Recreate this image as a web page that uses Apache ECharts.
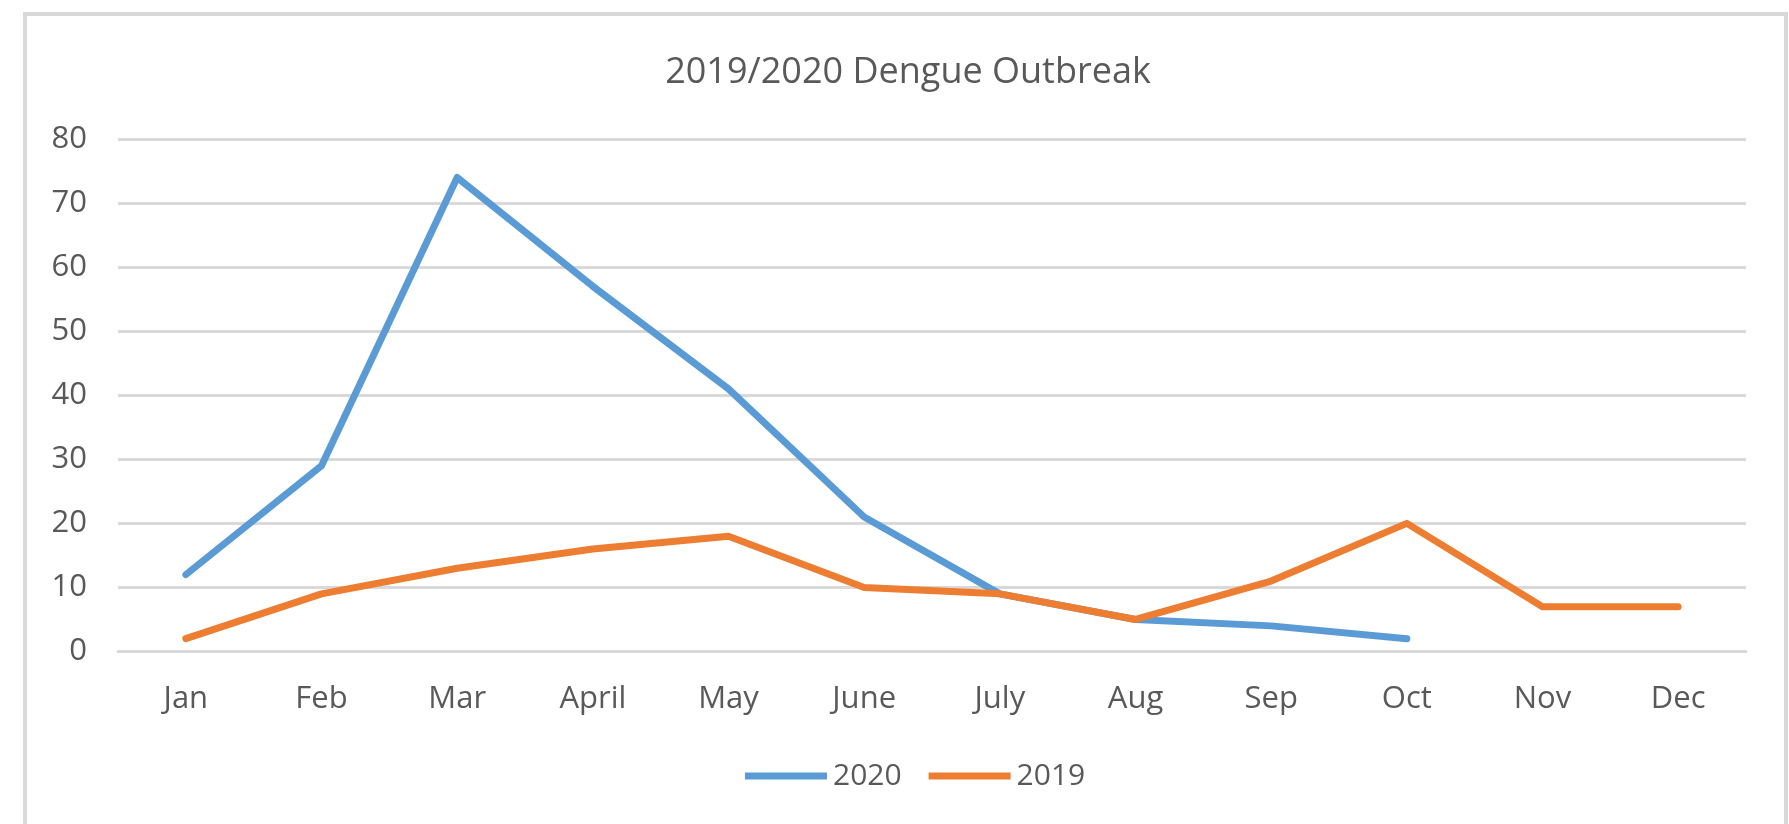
<!DOCTYPE html>
<html>
<head>
<meta charset="utf-8">
<script src="https://cdn.jsdelivr.net/npm/echarts@6/dist/echarts.min.js"></script>
<style>
html,body{margin:0;padding:0;background:#fff;}
#chart{width:1789px;height:824px;}
</style>
</head>
<body>
<div id="chart"></div>
<script>
const titleText = '2019/2020 Dengue Outbreak';
const months = ['Jan','Feb','Mar','April','May','June','July','Aug','Sep','Oct','Nov','Dec'];
const cases2020 = [12, 29, 74, 57, 41, 21, 9, 5, 4, 2];
const cases2019 = [2, 9, 13, 16, 18, 10, 9, 5, 11, 20, 7, 7];
const yTicks = [0, 10, 20, 30, 40, 50, 60, 70, 80];

const FONT = '"Open Sans", sans-serif';
const GRAY = '#595959';
const GRID = '#D9D9D9';

const chart = echarts.init(document.getElementById('chart'), null, {renderer: 'canvas'});
chart.setOption({
  backgroundColor: '#ffffff',
  animation: false,
  title: {
    text: titleText,
    left: 903,
    textAlign: 'center',
    top: 50,
    textStyle: {fontFamily: FONT, fontSize: 36, fontWeight: 'normal', color: GRAY}
  },
  graphic: [{
    type: 'rect',
    shape: {x: 25, y: 14, width: 1761, height: 900},
    style: {fill: 'none', stroke: GRID, lineWidth: 4},
    silent: true
  }],
  legend: {
    data: ['2020', '2019'],
    left: 740,
    top: 756,
    icon: 'rect',
    itemWidth: 82,
    itemHeight: 7,
    itemGap: 27,
    textStyle: {fontFamily: FONT, fontSize: 30, color: GRAY, padding: [0, 0, 0, 1]}
  },
  grid: {left: 118, right: 43, top: 139, bottom: 172.5, containLabel: false},
  xAxis: {
    type: 'category',
    data: months,
    boundaryGap: true,
    axisLine: {show: true, lineStyle: {color: GRID, width: 3}},
    axisTick: {show: false},
    axisLabel: {fontFamily: FONT, fontSize: 31, color: GRAY, margin: 32},
    splitLine: {show: false}
  },
  yAxis: {
    type: 'value',
    min: yTicks[0],
    max: yTicks[yTicks.length - 1],
    interval: 10,
    axisLine: {show: false},
    axisTick: {show: false},
    axisLabel: {fontFamily: FONT, fontSize: 31, color: GRAY, margin: 31},
    splitLine: {show: true, lineStyle: {color: GRID, width: 3}}
  },
  series: [
    {
      name: '2020',
      type: 'line',
      data: cases2020,
      showSymbol: false,
      symbol: 'none',
      lineStyle: {color: '#5B9BD5', width: 7, cap: 'round', join: 'round'},
      itemStyle: {color: '#5B9BD5'},
      z: 2
    },
    {
      name: '2019',
      type: 'line',
      data: cases2019,
      showSymbol: false,
      symbol: 'none',
      lineStyle: {color: '#ED7D31', width: 7, cap: 'round', join: 'round'},
      itemStyle: {color: '#ED7D31'},
      z: 3
    }
  ]
});
</script>
</body>
</html>
